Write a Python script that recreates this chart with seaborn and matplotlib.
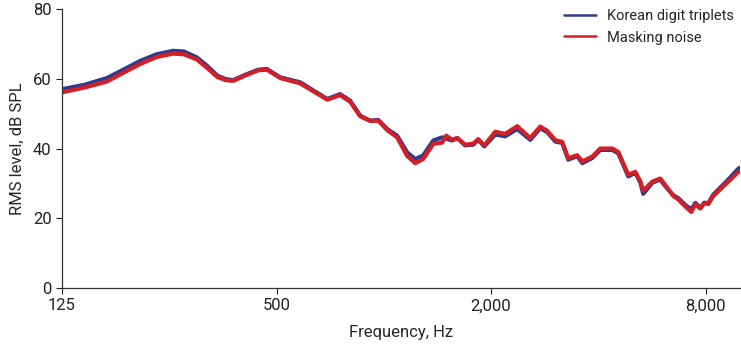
import seaborn as sns
import matplotlib.pyplot as plt
import pandas as pd

# frequencies (Hz)
freq = [125, 145, 167, 185, 207, 230, 256, 275, 299, 320, 341, 360, 378, 410, 444, 470,
        512, 582, 694, 754, 805, 859, 916, 965, 1022, 1090, 1163, 1225, 1290, 1377,
        1459, 1497, 1556, 1608, 1692, 1783, 1842, 1915, 2055, 2192, 2369, 2577, 2749,
        2875, 3030, 3169, 3294, 3492, 3608, 3849, 4053, 4380, 4554, 4856, 5081, 5249,
        5350, 5671, 5971, 6169, 6498, 6709, 7021, 7300, 7491, 7734, 7938, 8146, 8415,
        9210, 9888, 10000]

korean = [57.0, 58.3, 60.2, 62.5, 65.1, 67.0, 68.0, 67.8, 66.1, 63.6, 60.9, 59.9, 59.6,
          61.2, 62.6, 62.8, 60.4, 59.0, 54.2, 55.6, 53.7, 49.4, 48.0, 48.2, 45.6, 43.7,
          38.9, 37.0, 38.0, 42.3, 43.2, 42.8, 42.3, 43.0, 40.9, 41.1, 42.5, 40.6, 44.0,
          43.5, 45.6, 42.5, 45.8, 44.7, 42.0, 41.6, 36.8, 37.8, 35.8, 37.3, 39.6, 39.6,
          38.6, 32.0, 33.0, 30.3, 27.0, 30.2, 31.1, 29.2, 26.6, 25.8, 23.8, 22.6, 24.4,
          23.0, 24.5, 24.3, 26.8, 30.8, 34.2, 34.5]

masking = [56.1, 57.5, 59.2, 61.6, 64.2, 66.2, 67.2, 67.0, 65.5, 63.0, 60.5, 59.6, 59.4,
           61.0, 62.4, 62.6, 60.2, 58.7, 54.0, 55.3, 53.4, 49.2, 47.9, 48.0, 45.3, 43.2,
           37.9, 35.8, 37.0, 41.3, 41.7, 43.7, 42.5, 43.0, 41.1, 41.4, 42.7, 40.9, 44.8,
           44.2, 46.4, 43.0, 46.3, 45.1, 42.4, 41.9, 37.2, 38.1, 36.3, 37.7, 40.0, 40.0,
           39.0, 32.5, 33.3, 30.6, 27.9, 30.5, 31.4, 29.5, 26.4, 25.4, 23.4, 21.8, 24.0,
           22.8, 24.3, 24.1, 26.4, 30.2, 33.3, 33.6]

xticks = [125, 500, 2000, 8000]
xticklabels = ["125", "500", "2,000", "8,000"]
yticks = [0, 20, 40, 60, 80]

sns.set_style("ticks")
plt.rcParams['font.family'] = ['Roboto', 'DejaVu Sans']

df = pd.DataFrame({"freq": freq * 2,
                   "level": korean + masking,
                   "signal": ["Korean digit triplets"] * len(freq) + ["Masking noise"] * len(freq)})

fig = plt.figure(figsize=(7.41, 3.45), dpi=100)
ax = fig.add_axes([0.0837, 0.165, 0.915, 0.809])
sns.lineplot(data=df, x="freq", y="level", hue="signal",
             palette={"Korean digit triplets": "#2e3a8c", "Masking noise": "#d32027"},
             linewidth=3.0, ax=ax)
for line in ax.get_lines():
    line.set_solid_joinstyle("round")

ax.set_xscale("log")
ax.set_xlim(125, 10000)
ax.set_ylim(0, 80)
ax.set_xticks(xticks)
ax.set_xticklabels(xticklabels)
ax.minorticks_off()
ax.set_yticks(yticks)
ax.tick_params(labelsize=12, length=4, width=0.8, colors="#222222")
ax.set_xlabel("Frequency, Hz", fontsize=12, labelpad=8)
ax.set_ylabel("RMS level, dB SPL", fontsize=12, labelpad=6)
for s in ["left", "bottom"]:
    ax.spines[s].set_color("#333333")
    ax.spines[s].set_linewidth(0.9)
sns.despine(ax=ax)

leg = ax.legend(loc="upper right", frameon=False, fontsize=10.5, handlelength=2.2,
                borderaxespad=0.0, labelspacing=0.5, bbox_to_anchor=(1.0, 1.02))
for line in leg.get_lines():
    line.set_linewidth(1.8)

fig.savefig("out.png", dpi=100)
